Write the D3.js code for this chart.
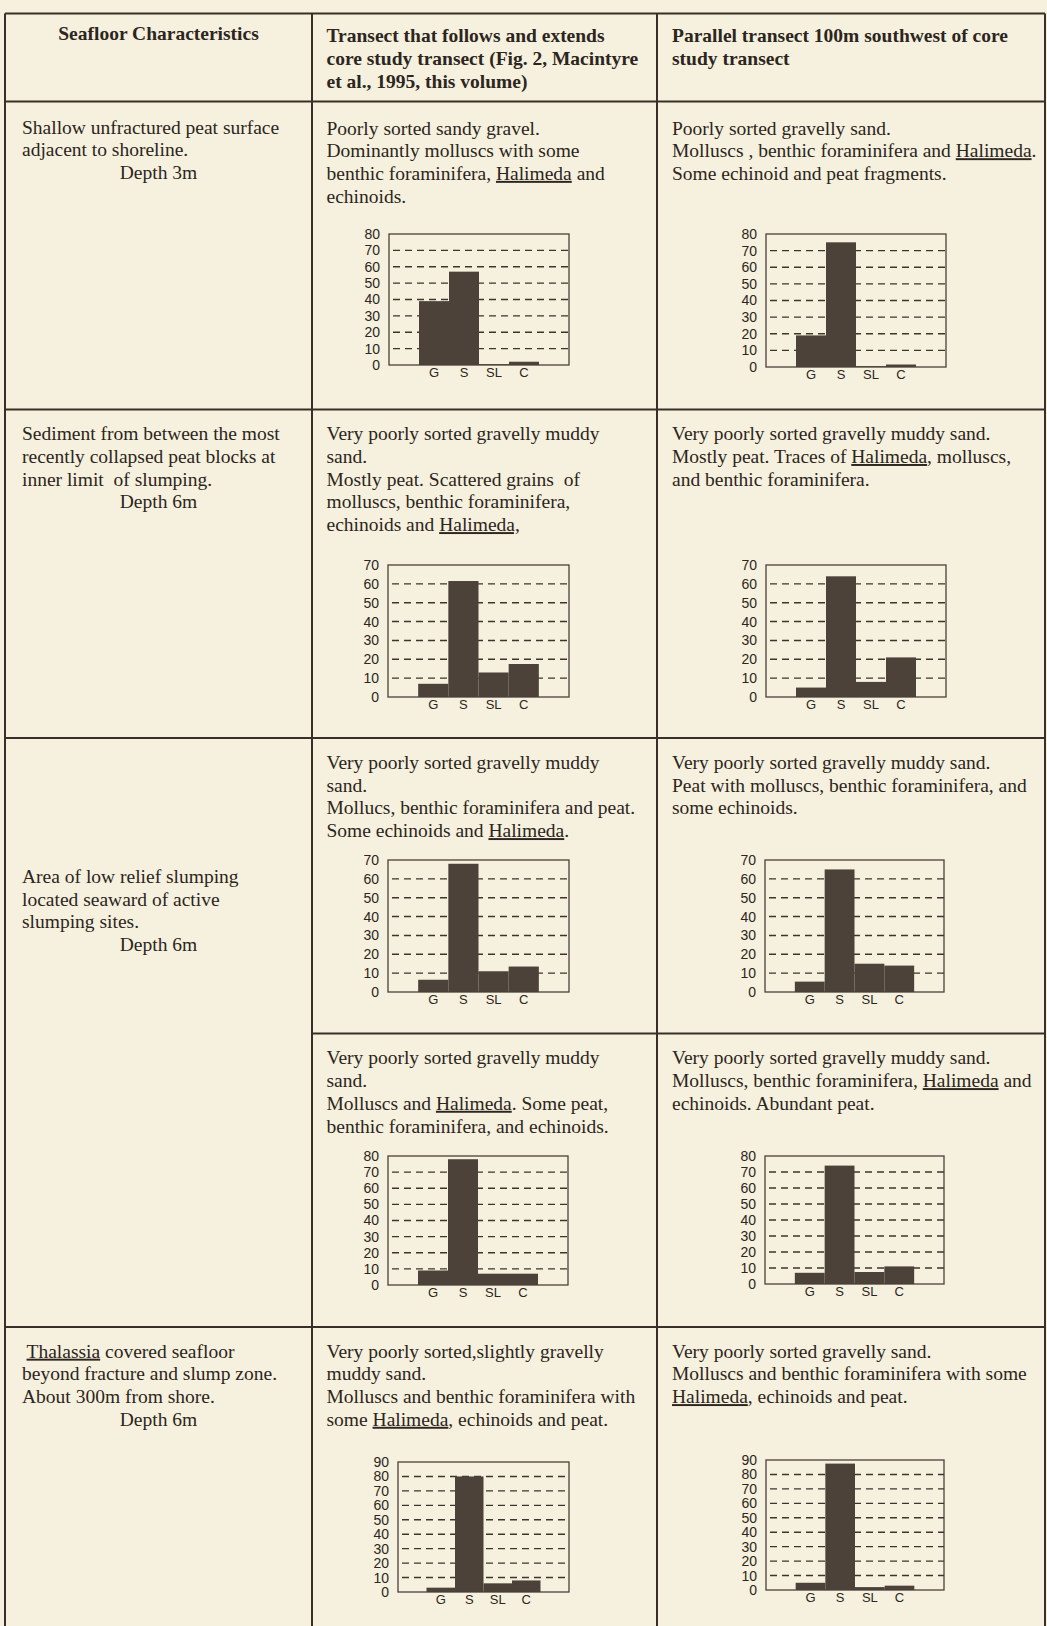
<!DOCTYPE html>
<html>
<head>
<meta charset="utf-8">
<script src="https://cdn.jsdelivr.net/npm/d3@7"></script>
<style>
    body { margin: 0; background: #f6f1de; }
    svg { display: block; }
</style>
</head>
<body>
<div id="chart"></div>
<script>
// Grain size classes: gravel, sand, silt, clay
const categories = ['G', 'S', 'SL', 'C'];

// Percent of each class (core transect / parallel transect)
const coreShallow       = [39, 57, 0.5, 2];
const parallelShallow   = [19, 75, 0.5, 1.5];
const coreCollapsed     = [7, 61.5, 13, 17.5];
const parallelCollapsed = [5, 64, 8, 21];
const coreLowRelief     = [6.5, 68, 11, 13.5];
const parallelLowRelief = [5.5, 65, 15, 14];
const coreSlumpOuter    = [9, 78, 7, 7];
const parallelSlumpOuter = [7, 74, 7.5, 11];
const coreThalassia     = [3, 80, 6, 8];
const parallelThalassia = [5, 87.5, 2, 3];

// y axis maximum of each histogram
const axisMax = [80, 80, 70, 70, 70, 70, 80, 80, 90, 90];

// Table text, "_word_" is underlined
const headerText = [
    ['Seafloor Characteristics'],
    ['Transect that follows and extends', 'core study transect (Fig. 2, Macintyre', 'et al., 1995, this volume)'],
    ['Parallel transect 100m southwest of core', 'study transect']
];
const siteText = [
    ['Shallow unfractured peat surface', 'adjacent to shoreline.'],
    ['Sediment from between the most', 'recently collapsed peat blocks at', 'inner limit  of slumping.'],
    ['Area of low relief slumping', 'located seaward of active', 'slumping sites.'],
    [' _Thalassia_ covered seafloor', 'beyond fracture and slump zone.', 'About 300m from shore.']
];
const depthText = ['Depth 3m', 'Depth 6m', 'Depth 6m', 'Depth 6m'];
const coreText = [
    ['Poorly sorted sandy gravel.', 'Dominantly molluscs with some', 'benthic foraminifera, _Halimeda_ and', 'echinoids.'],
    ['Very poorly sorted gravelly muddy', 'sand.', 'Mostly peat. Scattered grains  of', 'molluscs, benthic foraminifera,', 'echinoids and _Halimeda,_'],
    ['Very poorly sorted gravelly muddy', 'sand.', 'Mollucs, benthic foraminifera and peat.', 'Some echinoids and _Halimeda_.'],
    ['Very poorly sorted gravelly muddy', 'sand.', 'Molluscs and _Halimeda_. Some peat,', 'benthic foraminifera, and echinoids.'],
    ['Very poorly sorted,slightly gravelly', 'muddy sand.', 'Molluscs and benthic foraminifera with', 'some _Halimeda_, echinoids and peat.']
];
const parallelText = [
    ['Poorly sorted gravelly sand.', 'Molluscs , benthic foraminifera and _Halimeda_.', 'Some echinoid and peat fragments.'],
    ['Very poorly sorted gravelly muddy sand.', 'Mostly peat. Traces of _Halimeda_, molluscs,', 'and benthic foraminifera.'],
    ['Very poorly sorted gravelly muddy sand.', 'Peat with molluscs, benthic foraminifera, and', 'some echinoids.'],
    ['Very poorly sorted gravelly muddy sand.', 'Molluscs, benthic foraminifera, _Halimeda_ and', 'echinoids. Abundant peat.'],
    ['Very poorly sorted gravelly sand.', 'Molluscs and benthic foraminifera with some', '_Halimeda_, echinoids and peat.']
];

const width = 1047, height = 1626;
const ink = '#2c2520';
const barColor = '#4c4239';
const lineGap = 22.7;

// table grid
const colX = [5, 312, 657, 1045];
const rowY = [13.5, 101.5, 409.5, 738, 1327];
const subRowY = 1033.5;

const svg = d3.select('#chart')
    .append('svg')
    .attr('width', width)
    .attr('height', height);

svg.append('rect')
    .attr('width', width)
    .attr('height', height)
    .attr('fill', '#f6f1de');

const grid = svg.append('g')
    .attr('stroke', '#3a2f28')
    .attr('stroke-width', 2);

rowY.forEach(y => {
    grid.append('line').attr('x1', colX[0]).attr('x2', colX[3]).attr('y1', y).attr('y2', y);
});
grid.append('line').attr('x1', colX[1]).attr('x2', colX[3]).attr('y1', subRowY).attr('y2', subRowY);
colX.forEach(x => {
    grid.append('line').attr('x1', x).attr('x2', x).attr('y1', rowY[0]).attr('y2', height);
});

// write a block of lines, words between underscores get underlined
function writeLines(x, y, lines, opts = {}) {
    const t = svg.append('text')
        .attr('font-family', '"Liberation Serif", "Times New Roman", serif')
        .attr('font-size', opts.size || 19.5)
        .attr('font-weight', opts.bold ? 'bold' : 'normal')
        .attr('fill', ink)
        .attr('text-anchor', opts.anchor || 'start')
        .style('white-space', 'pre');
    lines.forEach((line, i) => {
        let started = false;
        line.split('_').forEach((part, j) => {
            if (part === '') return;
            const span = t.append('tspan').text(part);
            if (!started) {
                span.attr('x', x).attr('y', y + i * lineGap);
                started = true;
            }
            if (j % 2 === 1) span.style('text-decoration', 'underline');
        });
    });
    return t;
}

// header
writeLines((colX[0] + colX[1]) / 2, 40, headerText[0], { bold: true, anchor: 'middle' });
writeLines(326.5, 42.3, headerText[1], { bold: true });
writeLines(672, 42.3, headerText[2], { bold: true });

// first column
const siteY = [133.5, 440.3, 883, 1357.7];
siteText.forEach((lines, i) => {
    writeLines(22, siteY[i], lines);
    writeLines((colX[0] + colX[1]) / 2, siteY[i] + lines.length * lineGap, [depthText[i]], { anchor: 'middle' });
});

// description text in the transect columns
const descY = [134.5, 440.3, 769, 1064.4, 1357.7];
coreText.forEach((lines, i) => writeLines(326.5, descY[i], lines));
parallelText.forEach((lines, i) => writeLines(672, descY[i], lines));

// histogram boxes (plot area of each)
const series = [coreShallow, parallelShallow, coreCollapsed, parallelCollapsed,
    coreLowRelief, parallelLowRelief, coreSlumpOuter, parallelSlumpOuter,
    coreThalassia, parallelThalassia];
const boxes = [
    { x: 389, y: 234, w: 180, h: 131 },
    { x: 766, y: 234, w: 180, h: 133 },
    { x: 388, y: 565, w: 181, h: 132 },
    { x: 766, y: 565, w: 180, h: 132 },
    { x: 388, y: 860, w: 181, h: 132 },
    { x: 765, y: 860, w: 179, h: 132 },
    { x: 388, y: 1156, w: 180, h: 129 },
    { x: 765, y: 1156, w: 179, h: 128 },
    { x: 398, y: 1462, w: 171, h: 130 },
    { x: 766, y: 1460, w: 178, h: 130 }
];

series.forEach((values, i) => {
    const b = boxes[i];
    const max = axisMax[i];
    const yScale = d3.scaleLinear().domain([0, max]).range([b.y + b.h, b.y]);
    const xScale = d3.scaleBand()
        .domain(categories)
        .range([b.x + b.w / 6, b.x + b.w * 5 / 6])
        .padding(0);

    const g = svg.append('g');

    // dashed grid
    g.append('g')
        .selectAll('line')
        .data(d3.range(10, max, 10))
        .enter().append('line')
        .attr('x1', b.x + 4)
        .attr('x2', b.x + b.w)
        .attr('y1', d => yScale(d))
        .attr('y2', d => yScale(d))
        .attr('stroke', '#3d342d')
        .attr('stroke-width', 1.4)
        .attr('stroke-dasharray', '7,5');

    // bars
    g.append('g')
        .selectAll('rect')
        .data(values)
        .enter().append('rect')
        .attr('x', (d, j) => xScale(categories[j]))
        .attr('y', d => yScale(d))
        .attr('width', xScale.bandwidth())
        .attr('height', d => yScale(0) - yScale(d))
        .attr('fill', barColor);

    // frame
    g.append('rect')
        .attr('x', b.x)
        .attr('y', b.y)
        .attr('width', b.w)
        .attr('height', b.h)
        .attr('fill', 'none')
        .attr('stroke', '#4a4039')
        .attr('stroke-width', 1.3);

    // y labels
    const yAxis = g.append('g')
        .attr('transform', `translate(${b.x}, 0)`)
        .call(d3.axisLeft(yScale).tickValues(d3.range(0, max + 1, 10)).tickSize(0).tickPadding(9));
    yAxis.select('.domain').remove();
    yAxis.selectAll('text')
        .attr('font-family', '"Liberation Sans", Arial, sans-serif')
        .attr('font-size', 14)
        .attr('fill', ink);

    // category labels
    const xAxis = g.append('g')
        .attr('transform', `translate(0, ${b.y + b.h})`)
        .call(d3.axisBottom(xScale).tickSize(0).tickPadding(3));
    xAxis.select('.domain').remove();
    xAxis.selectAll('text')
        .attr('font-family', '"Liberation Sans", Arial, sans-serif')
        .attr('font-size', 13)
        .attr('fill', ink);
});
</script>
</body>
</html>
